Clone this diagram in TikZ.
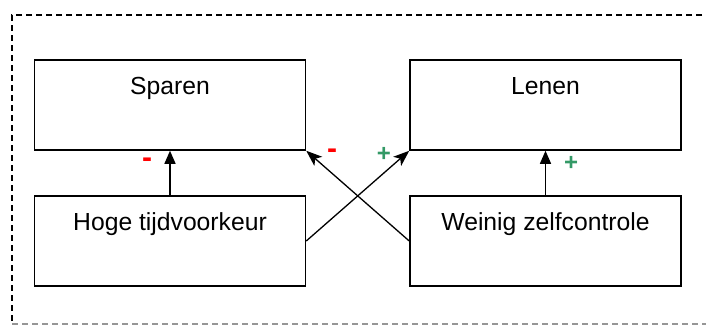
\documentclass[tikz,border=0pt]{standalone}
\usepackage{fontspec}
\setmainfont{Liberation Sans}
\usetikzlibrary{arrows.meta}
\definecolor{plusgreen}{RGB}{51,153,102}
\definecolor{framegray}{RGB}{150,150,150}
\tikzset{
  box/.style={draw, line width=1.5pt, minimum width=271pt, minimum height=90pt,
    inner xsep=0pt, inner ysep=0pt, text height=34pt, text depth=56pt,
    font=\fontsize{24.7}{30}\selectfont},
  conn/.style={line width=1.3pt, -{Triangle[length=13pt,width=11pt]}},
  dconn/.style={line width=1.3pt, -{Stealth[length=16pt,width=12pt,inset=4pt]}},
  minus/.style={text=red, font=\bfseries\fontsize{30}{30}\selectfont, inner sep=0pt},
  plus/.style={text=plusgreen, font=\bfseries\fontsize{24}{24}\selectfont, inner sep=0pt},
  frame/.style={line width=1.4pt, dash pattern=on 6pt off 4pt}
}
\begin{document}
\begin{tikzpicture}[x=1pt,y=-1pt]
\useasboundingbox (0,0) rectangle (706,325);
\coordinate (ftr) at (712,15);
\coordinate (ftl) at (12,15);
\coordinate (fbl) at (12,324);
\coordinate (fbr) at (712,324);
\draw[frame] (ftr) -- (ftl) -- (fbl);
\draw[frame, framegray] (fbl) -- (fbr);
\node[box] (sparen) at (170,105) {Sparen};
\node[box] (lenen) at (545.5,105) {Lenen};
\node[box] (hoge) at (170,241) {Hoge tijdvoorkeur};
\node[box] (weinig) at (545.5,241) {Weinig zelfcontrole};
\draw[conn] (hoge.north) -- (sparen.south);
\draw[conn] (weinig.north) -- (lenen.south);
\draw[dconn] (hoge.east) -- (lenen.south west);
\draw[dconn] (weinig.west) -- (sparen.south east);
\node[minus] (m1) at (147,163) {-};
\node[minus] (m2) at (332,154) {-};
\node[plus] (p1) at (384,154) {+};
\node[plus] (p2) at (571,163) {+};
\end{tikzpicture}
\end{document}
